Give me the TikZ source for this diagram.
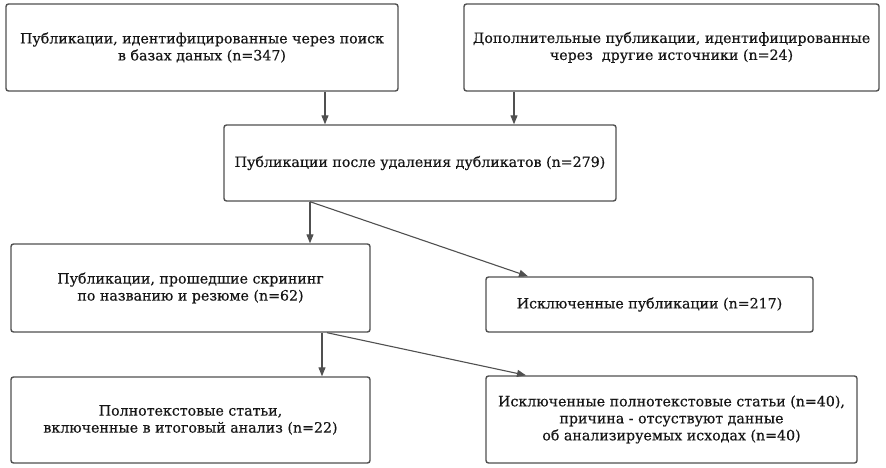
\documentclass[tikz,border=0pt]{standalone}
\usepackage{fontspec}
\setmainfont{DejaVu Serif}[FakeBold=0.4]
\usepackage{tikz}
\usetikzlibrary{positioning,arrows.meta,calc}
\definecolor{edge}{HTML}{505050}
\definecolor{ink}{HTML}{161616}

\begin{document}
\begin{tikzpicture}[
  x=1pt, y=-1pt,
  font=\fontsize{14.2}{17}\selectfont,
  stage/.style={draw=edge, line width=1.4pt, rounded corners=2.5pt, fill=white,
    text=ink, align=center, inner sep=2pt},
  arr/.style={-{Triangle[length=9pt, width=7pt]}, line width=1.1pt, edge},
]
\useasboundingbox (0,0) rectangle (886,468);
% sources (top row)
\node[stage, minimum width=392pt, minimum height=87pt] (dbsearch) at (202,47.5)
  {Публикации, идентифицированные через поиск\\в базах даных (n=347)};
\node[stage, minimum width=415pt, minimum height=87pt] (othersrc) at (671.5,47.5)
  {Дополнительные публикации, идентифицированные\\через\ \ другие источники (n=24)};
\node[stage, minimum width=392pt, minimum height=76pt] (dedup) at (420,163)
  {Публикации после удаления дубликатов (n=279)};

% screening
\node[stage, minimum width=359pt, minimum height=88pt] (screened) at (190.5,288)
  {Публикации, прошедшие скрининг\\по названию и резюме (n=62)};
\node[stage, minimum width=327pt, minimum height=55pt] (excl) at (649.5,304.5)
  {Исключенные публикации (n=217)};

% full texts
\node[stage, minimum width=359pt, minimum height=86pt] (incl) at (190.5,420)
  {Полнотекстовые статьи,\\включенные в итоговый анализ (n=22)};
\node[stage, minimum width=371pt, minimum height=87pt] (exclfull) at (671.5,419.5)
  {Исключенные полнотекстовые статьи (n=40),\\причина - отсуствуют данные\\об анализируемых исходах (n=40)};

\coordinate (xa) at (325,0);
\coordinate (xb) at (514,0);
\coordinate (xc) at (310,0);
\coordinate (xd) at (528,0);
\coordinate (xe) at (322,0);
\coordinate (xf) at (327,0);
\coordinate (xg) at (526,0);

\draw[arr] (dbsearch.south -| xa) -- (dedup.north -| xa);
\draw[arr] (othersrc.south -| xb) -- (dedup.north -| xb);
\draw[arr] (dedup.south -| xc) -- (screened.north -| xc);
\draw[arr] (dedup.south -| xc) -- (excl.north -| xd);
\draw[arr] (screened.south -| xe) -- (incl.north -| xe);
\draw[arr] (screened.south -| xf) -- (exclfull.north -| xg);
\end{tikzpicture}
\end{document}
